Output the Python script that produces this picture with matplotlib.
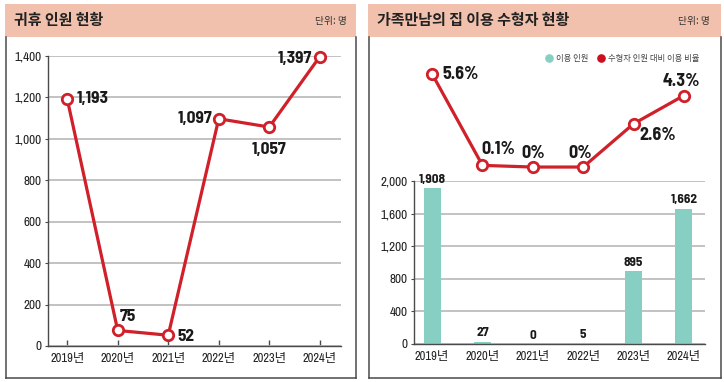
import matplotlib
matplotlib.use('Agg')
import matplotlib.pyplot as plt
from matplotlib.lines import Line2D
from matplotlib.patches import Rectangle

# ---- data ----
years = ['2019년', '2020년', '2021년', '2022년', '2023년', '2024년']
leave_counts = [1193, 75, 52, 1097, 1057, 1397]
leave_labels = ['1,193', '75', '52', '1,097', '1,057', '1,397']
visit_counts = [1908, 27, 0, 5, 895, 1662]
visit_labels = ['1,908', '27', '0', '5', '895', '1,662']
visit_rates = [5.6, 0.1, 0, 0, 2.6, 4.3]
rate_labels = ['5.6%', '0.1%', '0%', '0%', '2.6%', '4.3%']
left_yticks = [0, 200, 400, 600, 800, 1000, 1200, 1400]
right_yticks = [0, 400, 800, 1200, 1600, 2000]
left_title = '귀휴 인원 현황'
right_title = '가족만남의 집 이용 수형자 현황'
unit_text = '단위: 명'
legend_names = ['이용 인원', '수형자 인원 대비 이용 비율']

NUM = ['Archivo Narrow', 'Noto Sans CJK KR', 'DejaVu Sans']
BOLDNUM = ['Barlow Semi Condensed', 'DejaVu Sans']
KR = ['Noto Sans CJK KR', 'DejaVu Sans']
plt.rcParams['font.family'] = NUM

RED = '#D0202A'
TEAL = '#88CFC3'
PINK = '#F2C1AD'
DARK = '#4A4A4A'
GRID = '#BDBDBD'

W, H = 724, 382
fig = plt.figure(figsize=(W / 100, H / 100), dpi=100)


def box(x0, y0, x1, y1):
    return [x0 / W, 1 - y1 / H, (x1 - x0) / W, (y1 - y0) / H]


def fx(x):
    return x / W


def fy(y):
    return 1 - y / H


# ---- panel frames ----
for (x0, x1) in [(5, 356), (368, 721)]:
    fig.add_artist(Rectangle((fx(x0), fy(37)), (x1 - x0) / W, 33 / H,
                             transform=fig.transFigure, facecolor=PINK,
                             edgecolor='none', zorder=0))
    for line in [([x0 + 0.5, x0 + 0.5], [37, 378]),
                 ([x1 - 0.5, x1 - 0.5], [37, 378]),
                 ([x0 + 0.5, x1 - 0.5], [378, 378])]:
        fig.add_artist(Line2D([fx(v) for v in line[0]], [fy(v) for v in line[1]],
                              transform=fig.transFigure, color=DARK, lw=1.1))

fig.text(fx(14), fy(20.5), left_title, family=KR, weight='bold', fontsize=10.8,
         color='#222222', va='center', ha='left')
fig.text(fx(347), fy(21), unit_text, family=KR, fontsize=7, color='#333333',
         va='center', ha='right')
fig.text(fx(377), fy(20.5), right_title, family=KR, weight='bold', fontsize=10.8,
         color='#222222', va='center', ha='left')
fig.text(fx(710), fy(21), unit_text, family=KR, fontsize=7, color='#333333',
         va='center', ha='right')


def style_axis(ax, ylim, yticks, xticks_in=True):
    ax.set_ylim(*ylim)
    ax.set_yticks(yticks)
    ax.set_yticklabels([f'{v:,}' for v in yticks])
    ax.set_xticks(range(len(years)))
    ax.set_xticklabels(years)
    for s in ['top', 'right']:
        ax.spines[s].set_visible(False)
    for s in ['left', 'bottom']:
        ax.spines[s].set_color(DARK)
        ax.spines[s].set_linewidth(1.0)
    ax.yaxis.grid(True, color=GRID, lw=1.3)
    ax.set_axisbelow(True)
    ax.tick_params(axis='y', direction='out', length=2.5, width=0.8, color=DARK,
                   labelsize=9.5, pad=2, labelcolor='#222222')
    if xticks_in:
        ax.tick_params(axis='x', direction='in', length=4.5, width=1, color=DARK,
                       labelsize=9, pad=5, labelcolor='#222222')
    else:
        ax.tick_params(axis='x', length=0, labelsize=9, pad=5,
                       labelcolor='#222222')
    ax.set_facecolor('none')


# ---- left chart ----
axL = fig.add_axes(box(48, 56, 341, 346))
axL.set_xlim(-0.38, 5.42)
style_axis(axL, (0, 1400), left_yticks)
axL.plot(range(len(years)), leave_counts, color=RED, lw=2.3, marker='o', ms=7.5,
         mfc='white', mec=RED, mew=2, clip_on=False, zorder=3)

left_offsets = [(9, 0, 'left'), (10, 14, 'center'), (9, -1, 'left'),
                (-6, 0, 'right'), (0, -22, 'center'), (-8, -2, 'right')]
for i, (dx, dy, ha) in enumerate(left_offsets):
    axL.annotate(leave_labels[i], (i, leave_counts[i]), xytext=(dx * 0.72, dy * 0.72),
                 textcoords='offset points', ha=ha, va='center', fontsize=12.5,
                 family=BOLDNUM, weight='bold', color='#1A1A1A', zorder=4)

# ---- right chart: bars ----
axR = fig.add_axes(box(414, 181, 705, 344))
axR.set_xlim(-0.36, 5.42)
style_axis(axR, (0, 2000), right_yticks, xticks_in=False)
axR.bar(range(len(years)), visit_counts, width=0.34, color=TEAL, zorder=2)
for i, v in enumerate(visit_counts):
    axR.annotate(visit_labels[i], (i, v), xytext=(0, 2.5), textcoords='offset points',
                 ha='center', va='bottom', fontsize=9.5, family=BOLDNUM,
                 weight='bold', color='#1A1A1A')

# ---- right chart: line ----
axP = fig.add_axes(box(414, 60, 705, 180))
axP.set_xlim(-0.36, 5.42)
axP.set_ylim(-0.78, 6.44)
axP.axis('off')
axP.plot(range(len(years)), visit_rates, color=RED, lw=2.3, marker='o', ms=7.5,
         mfc='white', mec=RED, mew=2, clip_on=False, zorder=3)
rate_offsets = [(10, -1, 'left'), (16, 16, 'center'), (0, 14, 'center'),
                (-3, 14, 'center'), (6, -12, 'left'), (-2, 14, 'center')]
for i, (dx, dy, ha) in enumerate(rate_offsets):
    axP.annotate(rate_labels[i], (i, visit_rates[i]), xytext=(dx * 0.72, dy * 0.72),
                 textcoords='offset points', ha=ha, va='center', fontsize=13,
                 family=BOLDNUM, weight='bold', color='#1A1A1A', zorder=4)

# ---- legend ----
for (mx, tx, col, name) in [(548.5, 556, TEAL, legend_names[0]),
                            (601, 608, '#C8101E', legend_names[1])]:
    fig.add_artist(Line2D([fx(mx)], [fy(58)], marker='o', ms=5.2, color=col,
                          mec=col, transform=fig.transFigure, lw=0))
    fig.text(fx(tx), fy(58), name, family=KR, fontsize=6, color='#444444',
             va='center', ha='left')

fig.savefig('out.png', dpi=100)
